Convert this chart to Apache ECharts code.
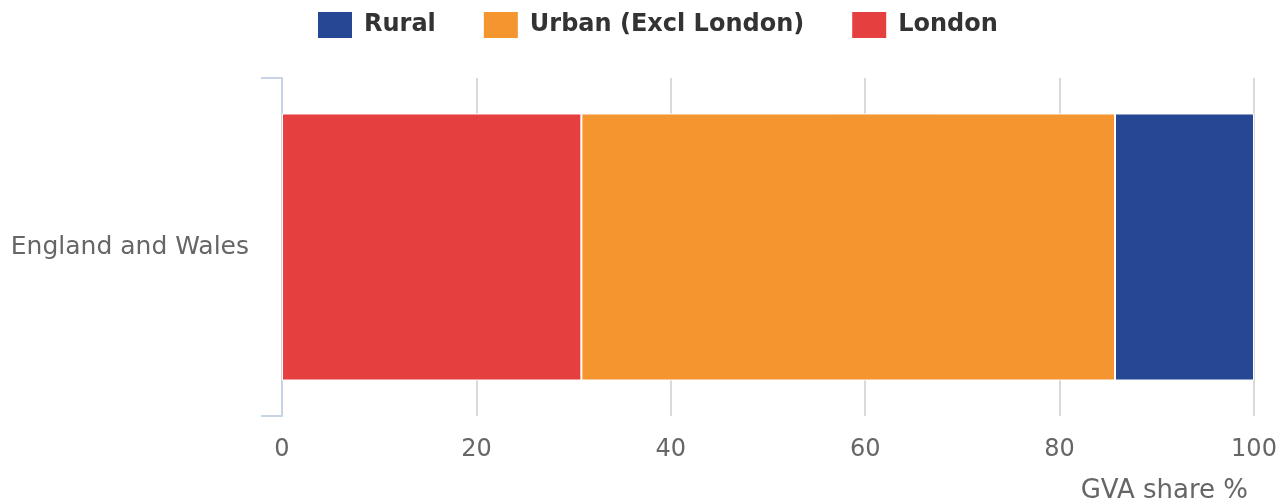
<!DOCTYPE html>
<html>
<head>
<meta charset="utf-8">
<script src="https://cdn.jsdelivr.net/npm/echarts@6/dist/echarts.min.js"></script>
<style>
  html, body { margin: 0; padding: 0; background: #fff; }
  #chart { width: 1286px; height: 503px; }
</style>
</head>
<body>
<div id="chart"></div>
<script>
// GVA share by area type, England and Wales
const categories = ['England and Wales'];
const londonShare = [30.8];
const urbanShare = [54.9];
const ruralShare = [14.3];
const xTicks = [0, 20, 40, 60, 80, 100];

const seriesNames = ['London', 'Urban (Excl London)', 'Rural'];
const seriesColors = ['#e63f3f', '#f49530', '#254794'];
const seriesValues = [londonShare, urbanShare, ruralShare];

const FONT = 'DejaVu Sans';
const chart = echarts.init(document.getElementById('chart'));

chart.setOption({
  animation: false,
  textStyle: { fontFamily: FONT },
  legend: {
    data: ['Rural', 'Urban (Excl London)', 'London'],
    top: 5,
    left: 311,
    itemWidth: 36,
    itemHeight: 28,
    itemGap: 46,
    icon: 'rect',
    textStyle: {
      fontFamily: FONT, fontWeight: 'bold', fontSize: 24, color: '#333333',
      padding: [0, 0, 0, 6]
    }
  },
  grid: {
    left: 282, right: 32, top: 78, bottom: 87,
    containLabel: false,
    outerBoundsMode: 'none'
  },
  xAxis: {
    type: 'value',
    min: xTicks[0],
    max: xTicks[xTicks.length - 1],
    interval: 20,
    name: 'GVA share %',
    nameLocation: 'end',
    nameGap: 0,
    nameTextStyle: {
      fontFamily: FONT, color: '#666666', fontSize: 26, align: 'right', verticalAlign: 'top',
      padding: [62, 6, 0, 0]
    },
    axisLine: { show: false },
    axisTick: { show: false },
    axisLabel: { fontFamily: FONT, color: '#666666', fontSize: 24, margin: 22 },
    splitLine: {
      show: true,
      lineStyle: {
        color: ['#8a8a8a', '#d9d9d9', '#d9d9d9', '#d9d9d9', '#d9d9d9', '#d9d9d9'],
        width: 2
      }
    }
  },
  yAxis: {
    type: 'category',
    data: categories,
    axisLine: { show: true, lineStyle: { color: '#c8d4e6', width: 2 } },
    axisTick: { show: true, length: 21, lineStyle: { color: '#c8d4e6', width: 2 } },
    axisLabel: { fontFamily: FONT, color: '#666666', fontSize: 25, margin: 33 }
  },
  series: seriesNames.map((name, i) => ({
    name: name,
    type: 'bar',
    stack: 'gva',
    barWidth: '79%',
    data: seriesValues[i],
    itemStyle: { color: seriesColors[i], borderColor: '#ffffff', borderWidth: 1 }
  }))
});
</script>
</body>
</html>
